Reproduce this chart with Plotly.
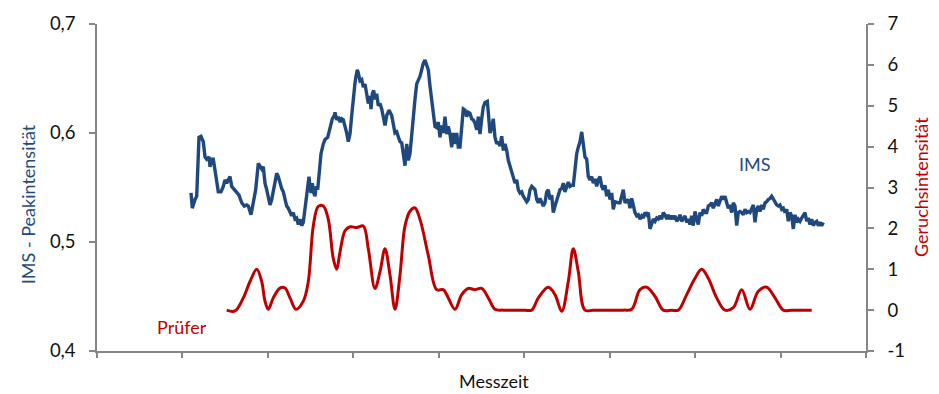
import plotly.graph_objects as go

# ---------------- data ----------------
# Messzeit (arbitrary time units) and IMS peak intensity (left axis)
ims_time = [
    94, 95.3, 98, 99.7, 102, 104, 106.3, 108, 109.7, 112,
    113, 114.7, 116.3, 118, 119.7, 121.3, 124, 126.3, 128, 129.7,
    131.3, 133, 134.7, 137.3, 139.7, 142, 144.7, 147.3, 149.7, 151.3,
    154, 156.3, 158.7, 161.3, 163, 164.7, 166.3, 168, 169.7, 171.3,
    173, 174.7, 176.3, 178, 179.7, 181.3, 183, 184.7, 186.3, 188,
    189.7, 191.3, 193, 194.7, 196.3, 198, 199.7, 201.3, 203, 204.7,
    206.3, 208, 209.7, 211.3, 212, 213, 214, 215.3, 216.3, 218,
    219, 220.7, 222, 224, 226.3, 228, 230.7, 232, 233.7, 235.3,
    237.3, 238, 239.7, 241.3, 243, 244.7, 246.3, 248, 249.7, 251.3,
    253, 254.7, 255.7, 256.7, 258, 259, 260.3, 261.3, 263, 264.7,
    266.3, 268, 269.7, 271.3, 273, 274, 275.3, 276.7, 278, 279.7,
    281.3, 283, 284.7, 286.3, 288, 289.7, 292, 294.7, 296.3, 298,
    299.7, 301.3, 303, 304.7, 306.3, 308, 309.7, 311.3, 313, 314.7,
    316.3, 318, 319.7, 321.3, 323, 324.7, 326.3, 328, 329.7, 331.3,
    333, 334.7, 336.3, 338, 339.7, 341.3, 343, 344.7, 346.3, 348,
    349.7, 351.3, 353, 354.7, 356.3, 358, 359.7, 361.3, 363, 364.7,
    366.3, 368, 369.7, 371.3, 373, 374.7, 376.3, 378, 379.7, 381.3,
    383, 384.7, 386.3, 388, 390.3, 391.3, 393, 394.7, 396.3, 398,
    399.7, 401.3, 403, 404.7, 406.3, 408, 409.7, 411.3, 413, 414.7,
    416.3, 418, 419.7, 421.3, 423, 424.7, 426.3, 428, 429.7, 431.3,
    433, 434.7, 436.3, 438, 439.7, 441.3, 443, 444.7, 446.3, 448,
    449.7, 451.3, 453, 454.7, 456.3, 458, 459.7, 461.3, 463, 464.7,
    466.3, 468, 469.7, 471.3, 473, 474.7, 476.3, 478, 479.7, 481.3,
    483, 484.7, 486.3, 488, 489.7, 491.3, 493, 494.7, 496.3, 498,
    499.7, 501.3, 503, 504.7, 506.3, 508, 509.7, 511.3, 513, 514.7,
    516.3, 518, 521.3, 523, 526.3, 528, 531.3, 533, 534.7, 536.3,
    538, 539.7, 541.3, 543, 544.7, 546.3, 548, 549.7, 551.3, 553,
    554.7, 556.3, 558, 559.7, 561.3, 563, 564.7, 566.3, 568, 569.7,
    571.3, 573, 574.7, 576.3, 578, 579.7, 581.3, 583, 584.7, 586.3,
    588, 589.7, 591.3, 593, 594.7, 596.3, 598, 599.7, 601.3, 603,
    604.7, 606.3, 608, 609.7, 611.3, 613, 614.7, 616.3, 618, 619.7,
    621.3, 623, 624.7, 626.3, 628, 629.7, 631.3, 633, 634.7, 636.3,
    638, 639.7, 641.3, 643, 644.7, 646.3, 648, 649.7, 651.3, 653,
    654.7, 656.3, 658, 659.7, 661.3, 663, 664.7, 666.3, 668, 669.7,
    671.3, 673, 674.7, 676.3, 678, 679.7, 681.3, 683, 684.7, 686.3,
    688, 689.7, 691.3, 693, 694.7, 696.3, 698, 699.7, 701.3, 703,
    704.7, 706.3, 708, 709.7, 711.3, 713, 714.7, 716.3, 718, 719.7,
    721.3, 723, 724.7, 726.3,
]
ims_values = [
    0.545, 0.531, 0.539, 0.542, 0.596, 0.597, 0.592, 0.578, 0.576, 0.578,
    0.569, 0.576, 0.576, 0.566, 0.554, 0.546, 0.546, 0.551, 0.557, 0.554,
    0.557, 0.560, 0.551, 0.548, 0.546, 0.543, 0.536, 0.533, 0.534, 0.533,
    0.525, 0.536, 0.548, 0.572, 0.570, 0.567, 0.569, 0.554, 0.548, 0.539,
    0.534, 0.539, 0.548, 0.557, 0.563, 0.560, 0.554, 0.549, 0.546, 0.539,
    0.533, 0.531, 0.528, 0.524, 0.527, 0.521, 0.522, 0.516, 0.521, 0.515,
    0.518, 0.530, 0.548, 0.554, 0.560, 0.551, 0.545, 0.554, 0.546, 0.542,
    0.551, 0.548, 0.560, 0.581, 0.590, 0.594, 0.596, 0.601, 0.607, 0.613,
    0.616, 0.619, 0.612, 0.615, 0.610, 0.613, 0.612, 0.607, 0.600, 0.592,
    0.599, 0.616, 0.628, 0.633, 0.646, 0.652, 0.658, 0.655, 0.648, 0.649,
    0.642, 0.645, 0.637, 0.627, 0.634, 0.622, 0.636, 0.639, 0.631, 0.636,
    0.625, 0.627, 0.622, 0.613, 0.607, 0.616, 0.621, 0.616, 0.606, 0.600,
    0.601, 0.596, 0.592, 0.591, 0.578, 0.570, 0.590, 0.575, 0.581, 0.601,
    0.619, 0.631, 0.645, 0.648, 0.652, 0.658, 0.664, 0.667, 0.663, 0.658,
    0.643, 0.631, 0.616, 0.606, 0.605, 0.610, 0.596, 0.607, 0.600, 0.615,
    0.599, 0.606, 0.599, 0.587, 0.600, 0.590, 0.600, 0.587, 0.587, 0.605,
    0.622, 0.621, 0.615, 0.619, 0.618, 0.613, 0.612, 0.609, 0.603, 0.615,
    0.599, 0.613, 0.624, 0.628, 0.629, 0.619, 0.600, 0.605, 0.613, 0.596,
    0.590, 0.592, 0.588, 0.597, 0.584, 0.590, 0.584, 0.575, 0.569, 0.564,
    0.558, 0.554, 0.557, 0.548, 0.545, 0.546, 0.542, 0.539, 0.537, 0.539,
    0.548, 0.551, 0.549, 0.548, 0.539, 0.536, 0.540, 0.537, 0.533, 0.536,
    0.546, 0.548, 0.539, 0.543, 0.527, 0.533, 0.539, 0.545, 0.548, 0.549,
    0.554, 0.546, 0.552, 0.555, 0.551, 0.552, 0.552, 0.566, 0.581, 0.587,
    0.592, 0.601, 0.592, 0.578, 0.576, 0.560, 0.557, 0.560, 0.554, 0.558,
    0.551, 0.557, 0.560, 0.551, 0.548, 0.552, 0.542, 0.548, 0.539, 0.545,
    0.530, 0.537, 0.536, 0.536, 0.548, 0.536, 0.539, 0.531, 0.540, 0.534,
    0.527, 0.524, 0.525, 0.521, 0.524, 0.522, 0.527, 0.525, 0.527, 0.512,
    0.518, 0.521, 0.519, 0.522, 0.521, 0.524, 0.521, 0.527, 0.525, 0.521,
    0.525, 0.521, 0.524, 0.521, 0.524, 0.519, 0.521, 0.525, 0.519, 0.521,
    0.524, 0.518, 0.521, 0.516, 0.524, 0.515, 0.528, 0.521, 0.516, 0.527,
    0.524, 0.530, 0.527, 0.527, 0.533, 0.534, 0.536, 0.531, 0.536, 0.539,
    0.533, 0.537, 0.542, 0.539, 0.542, 0.536, 0.531, 0.534, 0.527, 0.536,
    0.533, 0.515, 0.527, 0.528, 0.527, 0.525, 0.530, 0.527, 0.528, 0.527,
    0.530, 0.534, 0.518, 0.530, 0.533, 0.528, 0.534, 0.530, 0.536, 0.537,
    0.539, 0.540, 0.542, 0.539, 0.537, 0.534, 0.533, 0.534, 0.530, 0.531,
    0.527, 0.530, 0.519, 0.527, 0.524, 0.512, 0.525, 0.518, 0.521, 0.519,
    0.522, 0.525, 0.527, 0.519, 0.522, 0.516, 0.521, 0.515, 0.518, 0.519,
    0.515, 0.518, 0.515, 0.518,
]

# Messzeit and Geruchsintensität of the panel (right axis)
pruefer_time = [
    129.7, 138, 146.3, 153, 159.7, 164.7, 168, 171.3, 176.3, 183,
    188, 193, 199, 206.3, 211.3, 216.3, 221.3, 226.3, 231.3, 236.3,
    239.7, 243, 248, 253, 259.7, 266.3, 271.3, 278, 283, 288,
    293, 298, 303, 308, 313, 318, 323, 331.3, 339.7, 346.3,
    349.7, 358, 364.7, 371.3, 378, 384.7, 391.3, 398, 406.3, 428,
    434.7, 441.3, 451.3, 458, 464.7, 471.3, 476.3, 481.3, 488, 496.3,
    526.3, 534.7, 543, 549.7, 558, 566.3, 574.7, 581.3, 589.7, 598,
    604.7, 611.3, 619.7, 628, 636.3, 644.7, 653, 661.3, 669.7, 678,
    686.3, 694.7, 714.7,
]
pruefer_values = [
    0.0, -0.02, 0.30, 0.70, 1.00, 0.70, 0.22, 0.02, 0.30, 0.54,
    0.54, 0.30, 0.02, 0.22, 0.70, 2.06, 2.54, 2.55, 2.22, 1.26,
    1.00, 1.42, 1.94, 2.04, 2.02, 2.06, 1.50, 0.53, 0.94, 1.50,
    0.86, 0.02, 0.86, 2.06, 2.42, 2.50, 2.22, 1.34, 0.50, 0.50,
    0.38, 0.02, 0.38, 0.53, 0.50, 0.53, 0.30, 0.02, 0.0, 0.0,
    0.0, 0.30, 0.56, 0.38, -0.03, 0.70, 1.50, 0.94, 0.0, 0.0,
    0.0, 0.02, 0.50, 0.56, 0.34, 0.0, 0.0, 0.0, 0.38, 0.78,
    1.00, 0.78, 0.30, 0.0, 0.06, 0.50, 0.02, 0.46, 0.56, 0.30,
    0.0, 0.0, 0.0,
]

time_range = [0, 769]
time_ticks = [i * 769 / 9 for i in range(10)]
left_ticks = [0.4, 0.5, 0.6, 0.7]
left_ticktext = ["0,4", "0,5", "0,6", "0,7"]
right_ticks = [-1, 0, 1, 2, 3, 4, 5, 6, 7]
right_ticktext = ["-1", "0", "1", "2", "3", "4", "5", "6", "7"]

assert len(ims_time) == len(ims_values), (len(ims_time), len(ims_values))
assert len(pruefer_time) == len(pruefer_values), (len(pruefer_time), len(pruefer_values))

# ---------------- figure ----------------
BLUE = "#1F497D"
RED = "#C00000"
AXIS = "#868686"
FONT = "Lato"
TXT = "#111111"

fig = go.Figure()
fig.add_trace(go.Scatter(
    x=ims_time, y=ims_values, mode="lines", name="IMS",
    line=dict(color=BLUE, width=3.4), yaxis="y"))
fig.add_trace(go.Scatter(
    x=pruefer_time, y=pruefer_values, mode="lines", name="Prüfer",
    line=dict(color=RED, width=3, shape="spline", smoothing=1.0), yaxis="y2"))

fig.update_layout(
    width=939, height=394,
    margin=dict(l=97, r=73, t=17, b=43),
    paper_bgcolor="white", plot_bgcolor="white",
    showlegend=False,
    font=dict(family=FONT, size=18.5, color=TXT),
    xaxis=dict(range=time_range, tickvals=time_ticks, showticklabels=False,
               ticks="outside", ticklen=5, tickcolor=AXIS, tickwidth=1.5,
               showline=True, linecolor=AXIS, linewidth=1.5,
               showgrid=False, zeroline=False),
    yaxis=dict(range=[0.4, 0.7], tickvals=left_ticks, ticktext=left_ticktext,
               ticks="outside", ticklen=6, tickcolor=AXIS, tickwidth=1.5,
               showline=True, linecolor=AXIS, linewidth=1.5,
               showgrid=False, zeroline=False, ticklabelstandoff=10),
    yaxis2=dict(range=[-1, 7], tickvals=right_ticks, ticktext=right_ticktext,
                overlaying="y", side="right", anchor="x",
                ticks="outside", ticklen=6, tickcolor=AXIS, tickwidth=1.5,
                showline=True, linecolor=AXIS, linewidth=1.5,
                showgrid=False, zeroline=False, ticklabelstandoff=10),
    annotations=[
        dict(text="IMS - Peakintensität", xref="paper", yref="paper",
             x=-0.0897, y=0.449, textangle=-90, showarrow=False,
             xanchor="center", yanchor="middle",
             font=dict(family=FONT, size=18, color=BLUE)),
        dict(text="Geruchsintensität", xref="paper", yref="paper",
             x=1.0715, y=0.5015, textangle=-90, showarrow=False,
             xanchor="center", yanchor="middle",
             font=dict(family=FONT, size=18, color=RED)),
        dict(text="Messzeit", xref="paper", yref="paper",
             x=0.516, y=-0.0928, showarrow=False,
             xanchor="center", yanchor="middle",
             font=dict(family=FONT, size=18, color=TXT)),
        dict(text="IMS", xref="paper", yref="paper",
             x=0.8557, y=0.5719, showarrow=False,
             xanchor="center", yanchor="middle",
             font=dict(family=FONT, size=18, color=BLUE)),
        dict(text="Prüfer", xref="paper", yref="paper",
             x=0.1105, y=0.0749, showarrow=False,
             xanchor="center", yanchor="middle",
             font=dict(family=FONT, size=18, color=RED)),
    ],
)

fig.write_html("out.html")
